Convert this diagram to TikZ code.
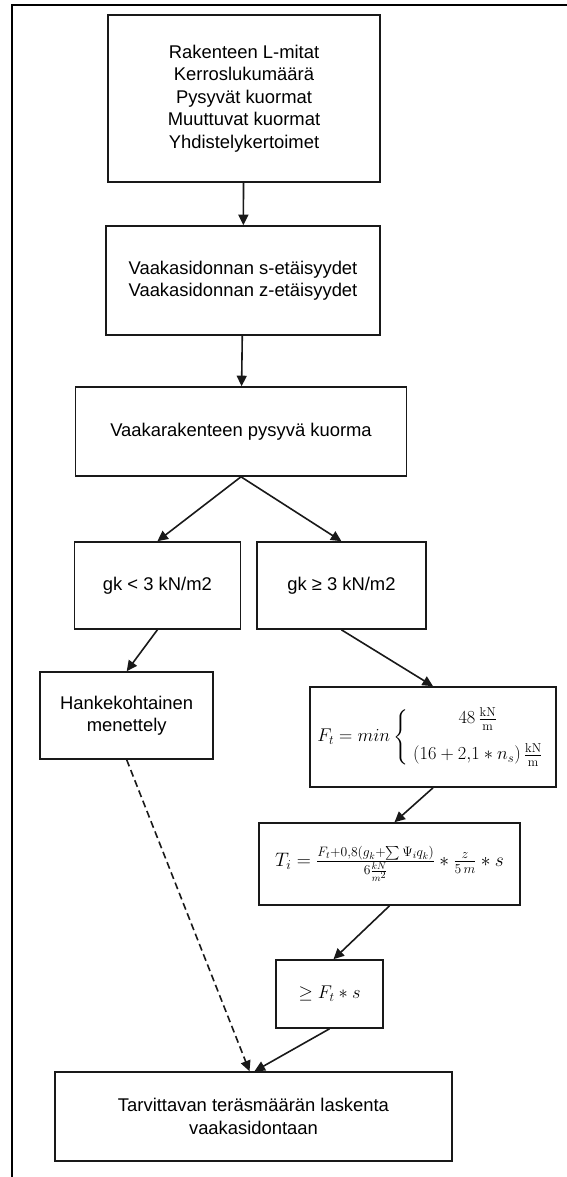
\documentclass[tikz,border=0pt]{standalone}
\usepackage{fix-cm}
\usepackage{amsmath}
\usepackage{amssymb}
\usepackage[no-math]{fontspec}
\setmainfont{Liberation Sans}
\usepackage{tikz}
\usetikzlibrary{arrows.meta}
\tikzset{box/.style = {draw = black!90, line width = 1.6pt, align = center, inner sep = 0,
                       font = \fontsize{18.4}{22.5}\selectfont}}
\tikzset{flow/.style = {-{Triangle[length=10.5pt, width=10pt]}, draw = black!90, line width = 1.6pt}}

\begin{document}
\begin{tikzpicture}[x=1pt, y=-1pt]
    \useasboundingbox (0, 0) rectangle (567, 1177);
    \draw [line width=1.8pt] (11.7, 1177) -- (11.7, 5) -- (567, 5);

    \node [box, minimum width=272, minimum height=167] (input) at (244, 98.5)
        {Rakenteen L-mitat\\Kerroslukumäärä\\Pysyvät kuormat\\Muuttuvat kuormat\\Yhdistelykertoimet};
    \node [box, minimum width=274, minimum height=109] (spacing) at (243, 280.5)
        {Vaakasidonnan s-etäisyydet\\Vaakasidonnan z-etäisyydet};
    \node [box, minimum width=331, minimum height=89] (deadload) at (241, 431.5)
        {Vaakarakenteen pysyvä kuorma};
    \node [box, minimum width=166, minimum height=87] (light) at (157.4, 585.5)
        {gk < 3 kN/m2};
    \node [box, minimum width=169, minimum height=87] (heavy) at (341.4, 585.5)
        {gk ≥ 3 kN/m2};
    \node [box, minimum width=173, minimum height=87] (project) at (126.7, 715.5)
        {Hankekohtainen\\menettely};
    \node [box, minimum width=246, minimum height=100] (force) at (433, 737)
        {\raisebox{6pt}{$F_t = min\left\{\begin{array}{c}
            48\,\frac{\mathrm{kN}}{\mathrm{m}}\\[13pt]
            (16 + 2{,}1 * n_s)\,\frac{\mathrm{kN}}{\mathrm{m}}
          \end{array}\right.$}};
    \node [box, minimum width=261, minimum height=82] (tie) at (389.5, 864)
        {\fontsize{19.5}{23}\selectfont
         $T_i = \frac{F_t + 0{,}8(g_k + \sum\Psi_i q_k)}{6\frac{kN}{m^2}} * \frac{z}{5\,m} * s$};
    \node [box, minimum width=107, minimum height=68] (lower) at (329.5, 994)
        {$\geq F_t * s$};
    \node [box, minimum width=397, minimum height=89] (steel) at (253.5, 1116.5)
        {Tarvittavan teräsmäärän laskenta\\vaakasidontaan};

    \draw [flow] (input) -- (spacing);
    \draw [flow] (spacing) -- (deadload);
    \draw [flow] (deadload.south) -- (light.north);
    \draw [flow] (deadload.south) -- (heavy.north);
    \draw [flow] (light.south) -- (project.north);
    \draw [flow] (heavy.south) -- (force.north);
    \draw [flow] (force.south) -- ([xshift=5pt]tie.north);
    \draw [flow] (tie.south) -- ([xshift=4pt]lower.north);
    \draw [flow] (lower.south) -- ([xshift=1pt]steel.north);
    \draw [flow, dash pattern=on 7pt off 4pt] (project.south) -- ([xshift=-4pt]steel.north);
\end{tikzpicture}
\end{document}
